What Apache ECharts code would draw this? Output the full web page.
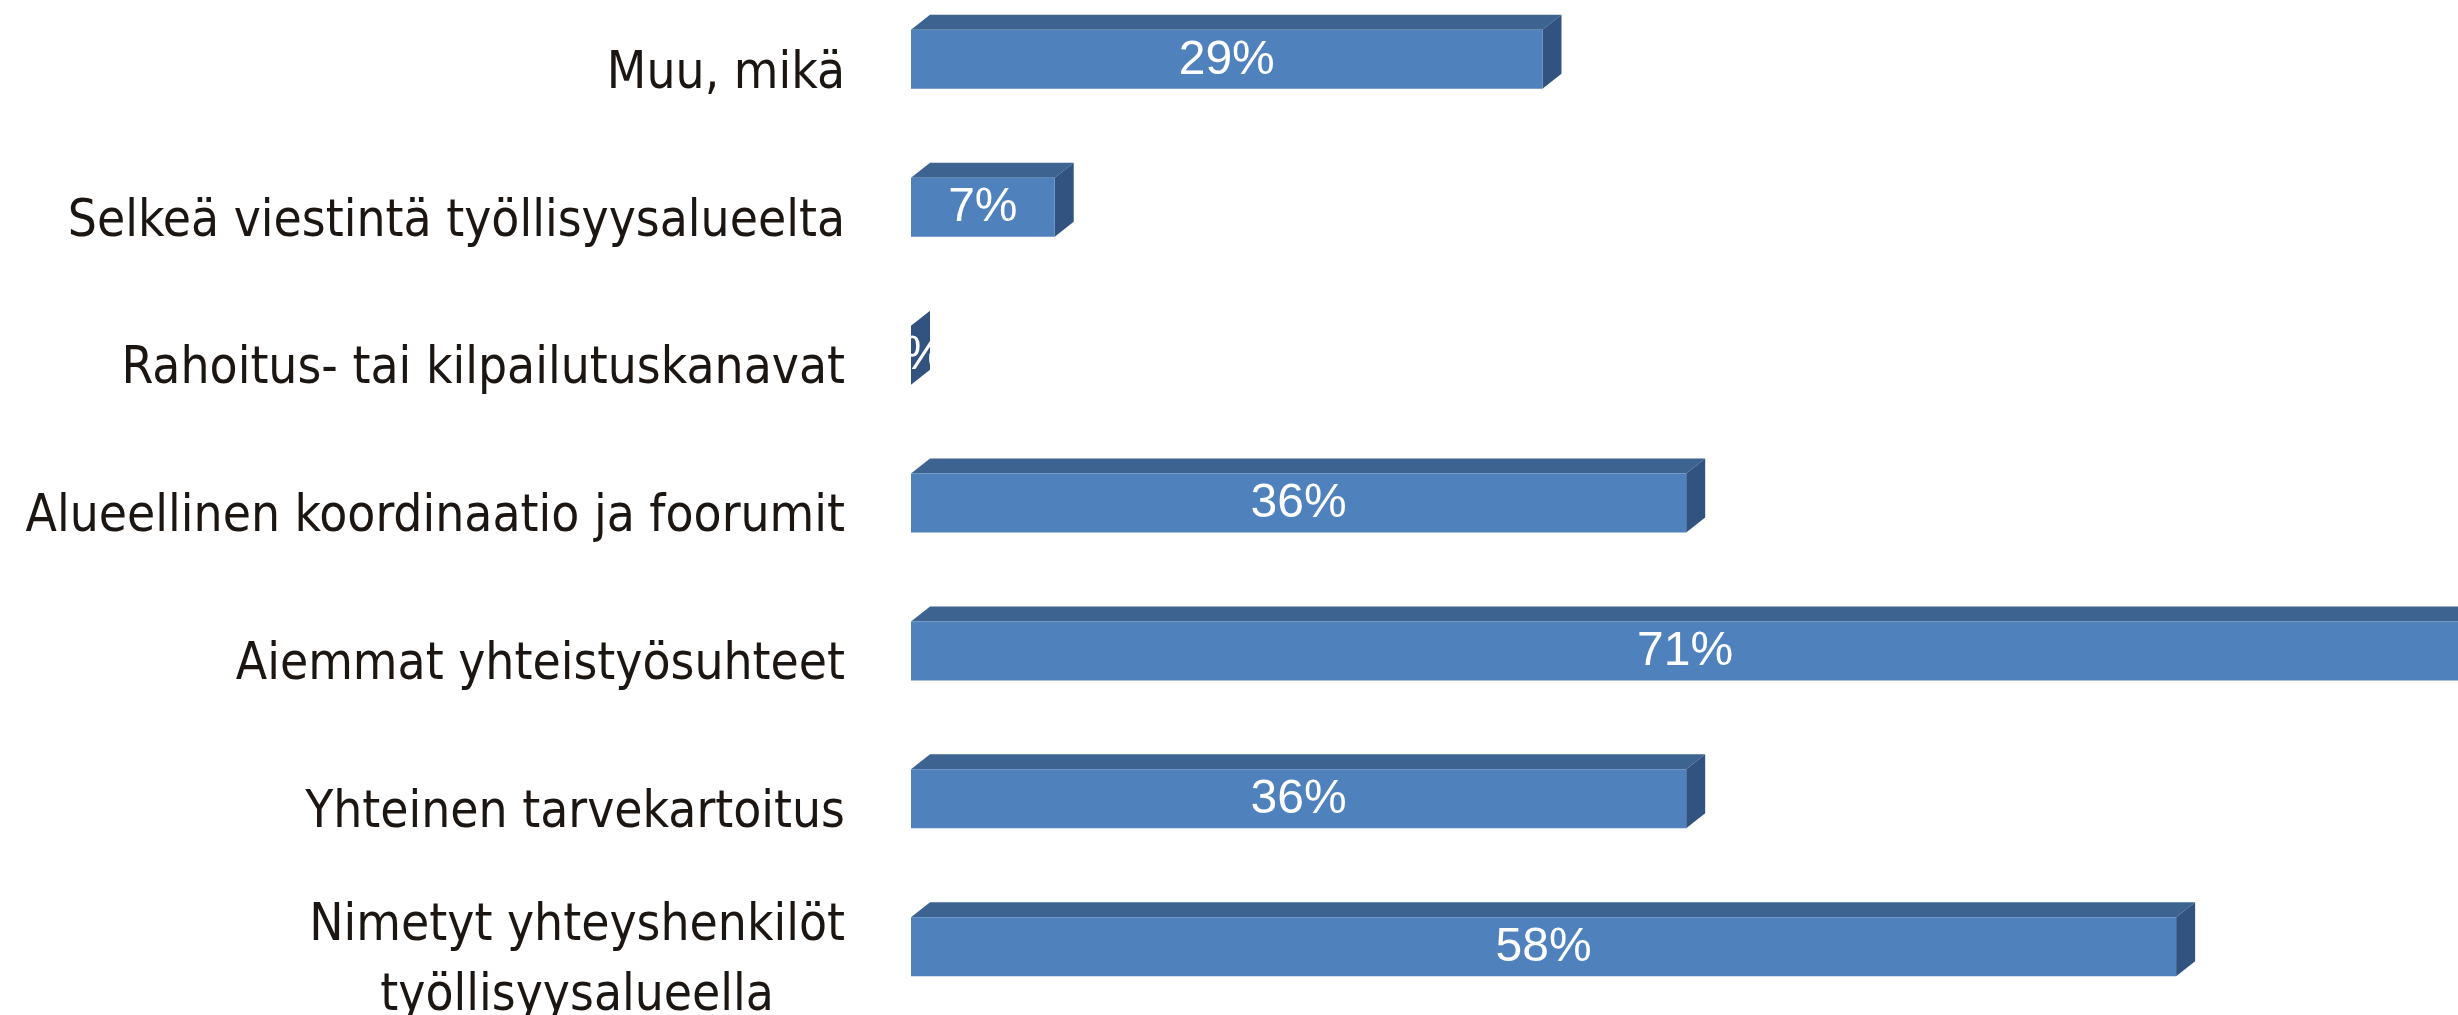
<!DOCTYPE html>
<html>
<head>
<meta charset="utf-8">
<script src="https://cdn.jsdelivr.net/npm/echarts@6/dist/echarts.min.js"></script>
<style>
html,body{margin:0;padding:0;background:#fff;}
#chart{width:2458px;height:1015px;}
</style>
</head>
<body>
<div id="chart"></div>
<script>
// Categories listed bottom to top (as in the source data)
const categories = [
  "Nimetyt yhteyshenkilöt\ntyöllisyysalueella",
  "Yhteinen tarvekartoitus",
  "Aiemmat yhteistyösuhteet",
  "Alueellinen koordinaatio ja foorumit",
  "Rahoitus- tai kilpailutuskanavat",
  "Selkeä viestintä työllisyysalueelta",
  "Muu, mikä"
];
// Shares of respondents, %
const values = [58.1, 35.6, 71.1, 35.6, 0, 6.6, 29.0];

const FRONT = '#4F81BD', TOP = '#3D6391', SIDE = '#325380';
const labelFont = '"Liberation Sans Narrow", "DejaVu Sans Condensed", "Liberation Sans", sans-serif';

const chart = echarts.init(document.getElementById('chart'));

function renderItem(params, api) {
  const v = api.value(0), c = api.value(1);
  const p0 = api.coord([0, c]);
  const p1 = api.coord([v, c]);
  const h = 59, shift = -15, dx = 19, dd = 15;
  const x = p0[0], w = p1[0] - p0[0];
  const yc = p0[1] + shift, y = yc - h / 2;
  return {
    type: 'group',
    children: [
      { type: 'polygon', shape: { points: [[x, y], [x + dx, y - dd], [x + w + dx, y - dd], [x + w, y]] }, style: { fill: TOP } },
      { type: 'polygon', shape: { points: [[x + w, y], [x + w + dx, y - dd], [x + w + dx, y + h - dd], [x + w, y + h]] }, style: { fill: SIDE } },
      { type: 'rect', shape: { x: x, y: y, width: w, height: h }, style: { fill: FRONT } },
      { type: 'text', z2: 10, style: { text: Math.round(v) + '%', x: x + w / 2, y: yc + 1, align: 'center', verticalAlign: 'middle', fill: '#ffffff', fontSize: 48, fontFamily: '"Liberation Sans", Arial, sans-serif' } }
    ]
  };
}

chart.setOption({
  animation: false,
  backgroundColor: '#ffffff',
  grid: { left: 911, right: -195, top: 0.4, bottom: -20.7, containLabel: false, outerBoundsMode: 'none' },
  xAxis: { type: 'value', min: 0, max: 80, show: false },
  yAxis: {
    type: 'category',
    data: categories,
    axisLine: { show: false },
    axisTick: { show: false },
    splitLine: { show: false },
    axisLabel: {
      margin: 66,
      align: 'right',
      formatter: function (val) {
        return val.split('\n').map(s => '{c|' + s + '}').join('\n');
      },
      rich: {
        c: { align: 'center', fontSize: 51, lineHeight: 70, color: '#1c1612', fontFamily: labelFont }
      }
    }
  },
  series: [{
    type: 'custom',
    renderItem: renderItem,
    data: values.map((v, i) => [v, i]),
    encode: { x: 0, y: 1 },
    clip: false
  }]
});
</script>
</body>
</html>
